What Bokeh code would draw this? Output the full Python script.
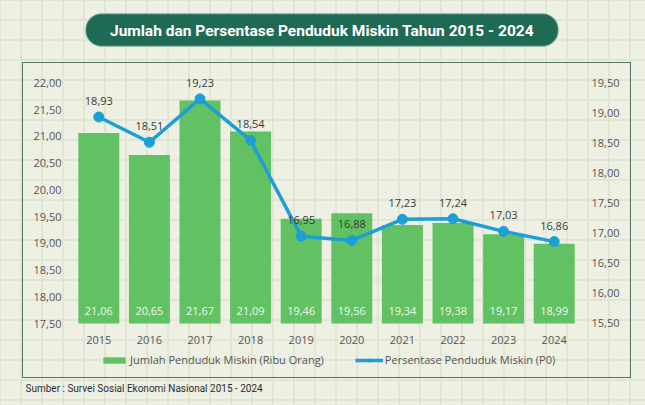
from bokeh.plotting import figure
from bokeh.models import (Range1d, LinearAxis, FactorRange, BoxAnnotation, Label,
                          Legend, LegendItem, ColumnDataSource, FixedTicker,
                          CustomJSTickFormatter, Title)
from bokeh.embed import file_html
from bokeh.resources import INLINE
from bokeh.core.properties import value

# ---------------- data ----------------
years = ["2015", "2016", "2017", "2018", "2019", "2020", "2021", "2022", "2023", "2024"]
jumlah = [21.06, 20.65, 21.67, 21.09, 19.46, 19.56, 19.34, 19.38, 19.17, 18.99]   # Ribu Orang
persen = [18.93, 18.51, 19.23, 18.54, 16.95, 16.88, 17.23, 17.24, 17.03, 16.86]   # P0 (%)
left_ticks = [17.5, 18.0, 18.5, 19.0, 19.5, 20.0, 20.5, 21.0, 21.5, 22.0]
right_ticks = [15.5, 16.0, 16.5, 17.0, 17.5, 18.0, 18.5, 19.0, 19.5]
title_text = "Jumlah dan Persentase Penduduk Miskin Tahun 2015 - 2024"
source_text = "Sumber : Survei Sosial Ekonomi Nasional 2015 - 2024"
label_bar = "Jumlah Penduduk Miskin (Ribu Orang)"
label_line = "Persentase Penduduk Miskin (P0)"

# ---------------- styles ----------------
W, H = 645, 405
BL, BR, BT, BB = 73, 66, 0, 27
FW, FH = W - BL - BR, H - BT - BB
BG = "#eef0e4"
GRIDPAPER = "#e0e5d4"
BAR = "#62c162"
LINE = "#1c9fd6"
TXT = "#555555"
DARK = "#1f6a54"
FONT = "Open Sans"

css = f"""
:host {{
  position: relative;
  background-color: {BG};
  background-image:
    linear-gradient({GRIDPAPER} 2px, transparent 2px),
    linear-gradient(90deg, {GRIDPAPER} 2px, transparent 2px);
  background-size: 21px 20px;
  background-position: -1px -1px;
}}
:host::after {{
  content: "";
  position: absolute;
  left: 22px; top: 62px; width: 607px; height: 314px;
  border: 1px solid #4f7b64;
  pointer-events: none;
}}
"""

def fmt(v):
    return f"{v:.2f}".replace(".", ",")

src = ColumnDataSource(dict(
    year=years, jumlah=jumlah, persen=persen,
    jl=[fmt(v) for v in jumlah], pl=[fmt(v) for v in persen],
    base=[left_ticks[0]] * len(years),
))

p = figure(frame_width=FW, frame_height=FH,
           x_range=FactorRange(*years, range_padding=0),
           y_range=Range1d(16.472, 23.539), output_backend="svg",
           toolbar_location=None, title_location=None, x_axis_location=None,
           min_border_left=BL, min_border_right=BR,
           min_border_top=BT, min_border_bottom=BB)
p.stylesheets = [css]
p.extra_y_ranges = {
    "pct": Range1d(14.586, 20.865),
    "cy": Range1d(BB, H),
}

p.background_fill_color = None
p.border_fill_color = None
p.outline_line_color = None
p.xgrid.visible = False
p.ygrid.visible = False

def cy(y):
    return H - y

def sx(x):
    return x - BL

# title pill (inside the frame)
pill = BoxAnnotation(left=sx(85), right=sx(558), bottom=cy(46), top=cy(13),
                     left_units="screen", right_units="screen", y_range_name="cy",
                     fill_color=DARK, fill_alpha=1, line_color="#d3e6da",
                     line_width=2, border_radius=16, level="underlay")
p.add_layout(pill)
p.add_layout(Label(x=sx(321.5), y=cy(30), x_units="screen", y_range_name="cy",
                   text=title_text, text_align="center", text_baseline="middle",
                   text_font="Roboto", text_font_style="bold",
                   text_font_size="15.5px", text_color="white"))

# bars
bars = p.vbar(x="year", top="jumlah", bottom="base", width=0.81, source=src,
              fill_color=BAR, line_color=None)
p.text(x="year", y="base", text="jl", source=src, y_offset=-13,
       text_align="center", text_baseline="middle", text_font=value(FONT),
       text_font_size="11px", text_color="#eef8ea")

# category labels (years) under the bars, through the categorical scale
p.text(x="year", y="base", text="year", source=src, y_offset=16,
       text_align="center", text_baseline="middle", text_font=value(FONT),
       text_font_size="11px", text_color=TXT)

# line
ln = p.line(x="year", y="persen", source=src, y_range_name="pct",
            line_color=LINE, line_width=3.5)
pts = p.scatter(x="year", y="persen", source=src, y_range_name="pct",
                size=10, fill_color=LINE, line_color=LINE)
p.text(x="year", y="persen", text="pl", source=src, y_range_name="pct",
       y_offset=-16, text_align="center", text_baseline="middle",
       text_font=value(FONT), text_font_size="11px", text_color="#3a3a3a")

# axes
tick_fmt = CustomJSTickFormatter(code="return tick.toFixed(2).replace('.', ',');")
left = p.yaxis[0]
left.ticker = FixedTicker(ticks=left_ticks)
left.formatter = tick_fmt
right = LinearAxis(y_range_name="pct", ticker=FixedTicker(ticks=right_ticks),
                   formatter=tick_fmt)
p.add_layout(right, "right")

for ax in [left, right]:
    ax.axis_line_color = None
    ax.major_tick_line_color = None
    ax.minor_tick_line_color = None
    ax.major_tick_in = 0
    ax.major_tick_out = 0
    ax.minor_tick_in = 0
    ax.minor_tick_out = 0
    ax.major_label_text_font = FONT
    ax.major_label_text_font_size = "11px"
    ax.major_label_text_color = TXT
    ax.major_label_standoff = 12

legend = Legend(items=[LegendItem(label=label_bar, renderers=[bars]),
                       LegendItem(label=label_line, renderers=[ln, pts])],
                orientation="horizontal", location=(27, 11),
                background_fill_alpha=0, border_line_color=None,
                padding=2, spacing=31, label_standoff=2,
                glyph_width=28, glyph_height=8, label_height=14,
                label_text_font=FONT, label_text_font_size="11px",
                label_text_color=TXT, margin=0)
p.add_layout(legend)

p.add_layout(Title(text=source_text, align="left", offset=25 - BL,
                   text_font="Roboto", text_font_size="10px",
                   text_font_style="normal", text_color="#2b2b2b",
                   standoff=5), "below")

open("out.html", "w").write(file_html(p, INLINE))
